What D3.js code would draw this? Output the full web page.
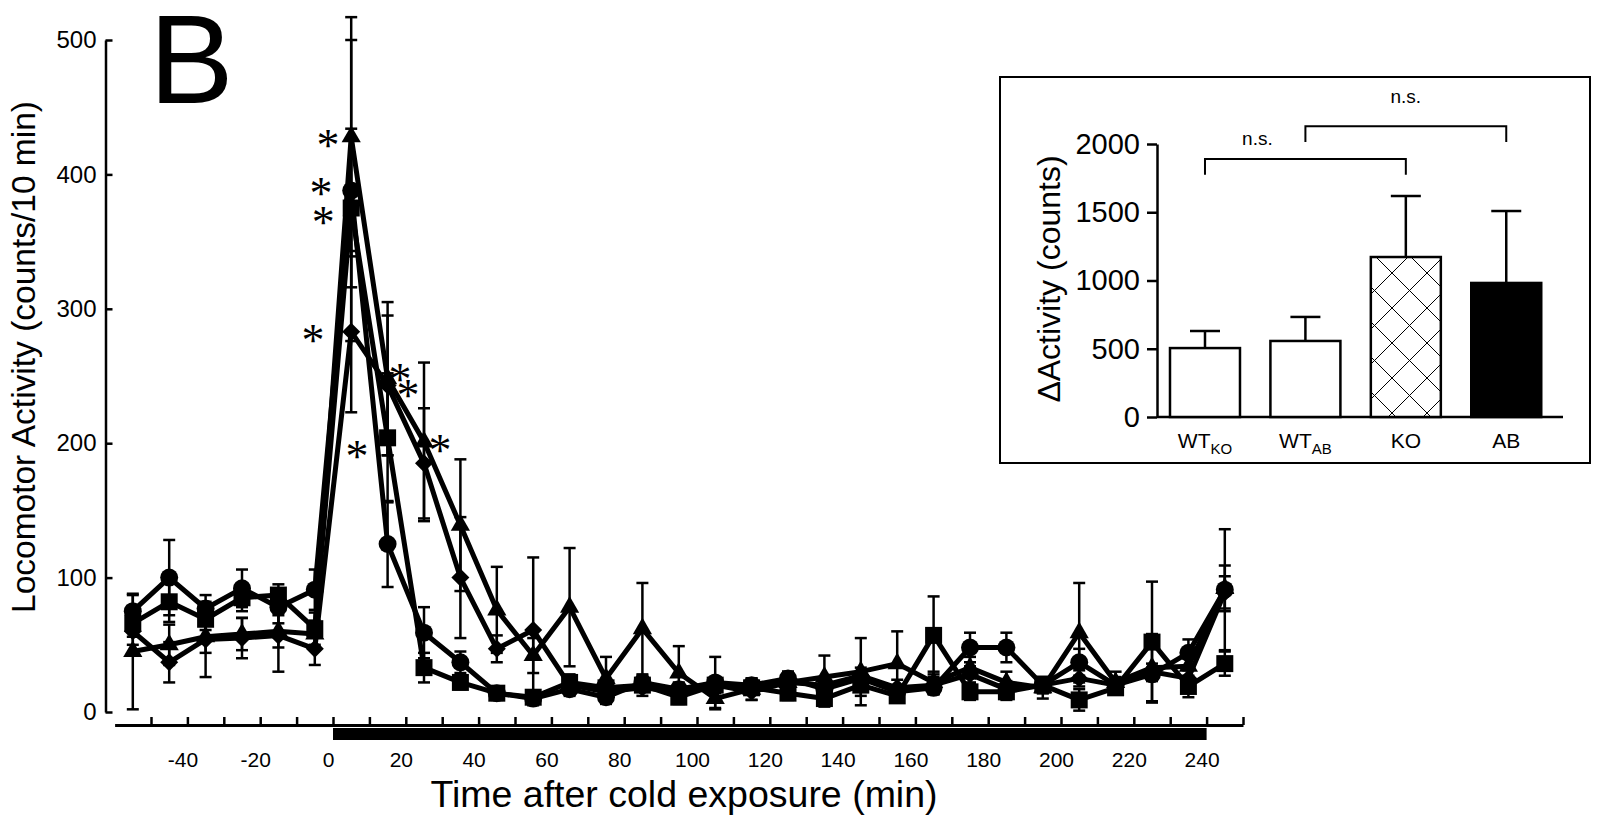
<!DOCTYPE html>
<html>
<head>
<meta charset="utf-8">
<script src="https://cdn.jsdelivr.net/npm/d3@7"></script>
<style>
  body { margin: 0; background: #fff; }
  text { font-family: "Liberation Sans", Arial, sans-serif; fill: #000; }
</style>
</head>
<body>
<div id="chart"></div>
<script>
// time bins (min after cold exposure), mid-points of 10 min bins
const times = [-55, -45, -35, -25, -15, -5, 5, 15, 25, 35, 45, 55, 65, 75, 85, 95, 105, 115, 125, 135, 145, 155, 165, 175, 185, 195, 205, 215, 225, 235, 245];

const circleVals   = [75, 100, 77, 92, 78, 91, 388, 125, 59, 37, 14, 10, 17, 11, 22, 17, 22, 20, 25, 17, 25, 15, 18, 48, 48, 20, 37, 20, 28, 44, 91];
const circleErr    = [12, 28, 10, 14, 12, 15, 112, 32, 19, 8, 5, 5, 5, 5, 5, 5, 19, 5, 5, 5, 5, 5, 5, 11, 11, 5, 10, 5, 5, 10, 45];
const squareVals   = [66, 82, 69, 85, 87, 62, 375, 204, 33, 22, 14, 11, 22, 18, 20, 11, 20, 18, 14, 10, 20, 12, 57, 15, 15, 20, 9, 18, 52, 19, 36];
const squareErr    = [10, 15, 8, 10, 8, 12, 59, 48, 11, 5, 4, 4, 6, 5, 5, 5, 5, 5, 5, 6, 8, 5, 29, 6, 6, 6, 8, 5, 45, 8, 9];
const triangleVals = [45, 50, 56, 58, 60, 58, 428, 248, 201, 139, 76, 42, 78, 25, 62, 29, 10, 17, 22, 26, 30, 36, 22, 33, 22, 18, 59, 22, 33, 34, 92];
const triangleErr  = [43, 15, 12, 12, 12, 10, 89, 57, 59, 49, 32, 13, 44, 16, 34, 20, 8, 8, 8, 16, 25, 24, 8, 8, 8, 8, 37, 8, 25, 10, 17];
const diamondVals  = [60, 37, 54, 55, 57, 47, 283, 243, 185, 100, 47, 61, 20, 15, 18, 15, 20, 15, 22, 20, 27, 18, 20, 28, 17, 20, 25, 20, 30, 25, 89];
const diamondErr   = [10, 15, 28, 15, 27, 12, 60, 52, 41, 45, 10, 54, 6, 6, 6, 6, 6, 6, 6, 6, 6, 6, 6, 6, 6, 6, 6, 6, 6, 6, 12];

const yTicks = [0, 100, 200, 300, 400, 500];
const xTicks = [-50, -40, -30, -20, -10, 0, 10, 20, 30, 40, 50, 60, 70, 80, 90, 100, 110, 120, 130, 140, 150, 160, 170, 180, 190, 200, 210, 220, 230, 240, 250];
const xLabelled = [-40, -20, 0, 20, 40, 60, 80, 100, 120, 140, 160, 180, 200, 220, 240];
const coldPeriod = [0, 240];

// significance stars, placed in data units (time, counts)
const stars = [
  [-1.4, 427], [-3.3, 391], [-2.7, 370], [-5.5, 282],
  [6.6, 196], [18.4, 253], [20.6, 241], [29.4, 200]
];

// inset bar chart
const insetGroups = ["WTKO", "WTAB", "KO", "AB"];
const insetMain   = ["WT", "WT", "KO", "AB"];
const insetSub    = ["KO", "AB", "", ""];
const insetVals   = [505, 557, 1172, 982];
const insetErr    = [125, 176, 447, 527];
const insetTicks  = [0, 500, 1000, 1500, 2000];
const insetBrackets = [
  { from: 0, to: 2, level: 1890, label: "n.s.", shift: -48, gap: 14 },
  { from: 1, to: 3, level: 2130, label: "n.s.", shift: 0, gap: 23 }
];

const width = 1604, height = 823;

const svg = d3.select("#chart")
  .append("svg")
  .attr("width", width)
  .attr("height", height);

const x = d3.scaleLinear().domain([-60, 250]).range([114.6, 1243]);
const y = d3.scaleLinear().domain([0, 500]).range([712, 40]);

// panel letter
svg.append("text")
  .attr("x", 149).attr("y", 103)
  .attr("font-size", 127)
  .text("B");

// y axis
const yAxis = svg.append("g")
  .attr("transform", "translate(105.5,0)")
  .call(d3.axisLeft(y).tickValues(yTicks).tickSizeInner(-7).tickSizeOuter(0).tickPadding(9));
yAxis.select(".domain").attr("stroke-width", 2.5);
yAxis.selectAll(".tick line").attr("stroke-width", 2.5);
yAxis.selectAll("text").attr("font-size", 24).attr("font-family", "Liberation Sans, Arial, sans-serif");

svg.append("text")
  .attr("transform", "translate(35,357) rotate(-90)")
  .attr("text-anchor", "middle")
  .attr("font-size", 33.5)
  .text("Locomotor Activity (counts/10 min)");

// x axis
const xAxis = svg.append("g")
  .attr("transform", "translate(0,725)")
  .call(d3.axisBottom(x).tickValues(xTicks).tickSizeInner(-8).tickSizeOuter(0).tickPadding(27)
    .tickFormat(d => xLabelled.includes(d) ? d : ""));
xAxis.select(".domain").attr("stroke-width", 3);
xAxis.selectAll(".tick line").attr("stroke-width", 2.5);
xAxis.selectAll("text").attr("font-size", 21).attr("dx", -5)
  .attr("font-family", "Liberation Sans, Arial, sans-serif");

svg.append("rect")
  .attr("x", x(coldPeriod[0]))
  .attr("y", 728)
  .attr("width", x(coldPeriod[1]) - x(coldPeriod[0]))
  .attr("height", 12)
  .attr("fill", "#000");

svg.append("text")
  .attr("x", 684).attr("y", 807)
  .attr("text-anchor", "middle")
  .attr("font-size", 37.5)
  .text("Time after cold exposure (min)");

// series
const series = [
  { name: "diamond",  vals: diamondVals,  err: diamondErr,  sym: d3.symbolSquare,   size: 162, rot: 45 },
  { name: "triangle", vals: triangleVals, err: triangleErr, sym: d3.symbolTriangle, size: 160, rot: 0 },
  { name: "square",   vals: squareVals,   err: squareErr,   sym: d3.symbolSquare,   size: 289, rot: 0 },
  { name: "circle",   vals: circleVals,   err: circleErr,   sym: d3.symbolCircle,   size: 254, rot: 0 }
];

const plot = svg.append("g");

// error bars first
series.forEach(s => {
  const pts = times.map((t, i) => ({ t, v: s.vals[i], e: s.err[i] }));
  const eb = plot.append("g").attr("stroke", "#000").attr("stroke-width", 2.5);
  eb.selectAll("line.v").data(pts).join("line")
    .attr("x1", d => x(d.t)).attr("x2", d => x(d.t))
    .attr("y1", d => y(Math.max(0, d.v - d.e))).attr("y2", d => y(d.v + d.e));
  eb.selectAll("line.top").data(pts).join("line")
    .attr("x1", d => x(d.t) - 6).attr("x2", d => x(d.t) + 6)
    .attr("y1", d => y(d.v + d.e)).attr("y2", d => y(d.v + d.e));
  eb.selectAll("line.bot").data(pts).join("line")
    .attr("x1", d => x(d.t) - 6).attr("x2", d => x(d.t) + 6)
    .attr("y1", d => y(Math.max(0, d.v - d.e))).attr("y2", d => y(Math.max(0, d.v - d.e)));
});

const line = d3.line().x(d => x(d.t)).y(d => y(d.v));

series.forEach(s => {
  const pts = times.map((t, i) => ({ t, v: s.vals[i] }));
  plot.append("path")
    .datum(pts)
    .attr("fill", "none")
    .attr("stroke", "#000")
    .attr("stroke-width", 5)
    .attr("stroke-linejoin", "round")
    .attr("d", line);
});

series.forEach(s => {
  const pts = times.map((t, i) => ({ t, v: s.vals[i] }));
  plot.append("g").selectAll("path")
    .data(pts)
    .join("path")
    .attr("d", d3.symbol().type(s.sym).size(s.size))
    .attr("transform", d => `translate(${x(d.t)},${y(d.v)}) rotate(${s.rot})`)
    .attr("fill", "#000");
});

// stars
svg.append("g").selectAll("text")
  .data(stars)
  .join("text")
  .attr("x", d => x(d[0]))
  .attr("y", d => y(d[1]) + 23)
  .attr("text-anchor", "middle")
  .attr("font-size", 46)
  .style("font-family", "Liberation Serif, serif")
  .text("*");

// ---------- inset ----------
const inset = svg.append("g");

inset.append("rect")
  .attr("x", 1000).attr("y", 77)
  .attr("width", 590).attr("height", 386)
  .attr("fill", "#fff")
  .attr("stroke", "#000")
  .attr("stroke-width", 2);

const defs = svg.append("defs");
const pat = defs.append("pattern")
  .attr("id", "hatch")
  .attr("patternUnits", "userSpaceOnUse")
  .attr("x", 1392).attr("y", 273)
  .attr("width", 35).attr("height", 35);
pat.append("rect").attr("width", 35).attr("height", 35).attr("fill", "#fff");
pat.append("path").attr("d", "M0,0L35,35M35,0L0,35M-5,30L5,40M30,-5L40,5M-5,5L5,-5M30,40L40,30")
  .attr("stroke", "#000").attr("stroke-width", 1);

const yi = d3.scaleLinear().domain([0, 2000]).range([417, 144]);
const xi = d3.scaleBand().domain(insetGroups).range([1157, 1563])
  .paddingInner(0.303).paddingOuter(0.173).align(0.374);

const barFill = ["#fff", "#fff", "url(#hatch)", "#000"];

const yiAxis = inset.append("g")
  .attr("transform", "translate(1157,0)")
  .call(d3.axisLeft(yi).tickValues(insetTicks).tickFormat(d3.format("d"))
    .tickSizeInner(10).tickSizeOuter(0).tickPadding(7));
yiAxis.select(".domain").attr("stroke-width", 2.5);
yiAxis.selectAll(".tick line").attr("stroke-width", 2.5);
yiAxis.selectAll("text").attr("font-size", 29).attr("font-family", "Liberation Sans, Arial, sans-serif");

inset.append("line")
  .attr("x1", 1157).attr("x2", 1563)
  .attr("y1", yi(0)).attr("y2", yi(0))
  .attr("stroke", "#000").attr("stroke-width", 2.5);

inset.append("text")
  .attr("transform", "translate(1060,279) rotate(-90)")
  .attr("text-anchor", "middle")
  .attr("font-size", 32)
  .text("\u0394Activity (counts)");

// error bars (upper only)
const ie = inset.append("g").attr("stroke", "#000").attr("stroke-width", 2.5);
insetGroups.forEach((g, i) => {
  const cx = xi(g) + xi.bandwidth() / 2;
  ie.append("line").attr("x1", cx).attr("x2", cx)
    .attr("y1", yi(insetVals[i])).attr("y2", yi(insetVals[i] + insetErr[i]));
  ie.append("line").attr("x1", cx - 15).attr("x2", cx + 15)
    .attr("y1", yi(insetVals[i] + insetErr[i])).attr("y2", yi(insetVals[i] + insetErr[i]));
});

inset.append("g").selectAll("rect")
  .data(insetGroups)
  .join("rect")
  .attr("x", d => xi(d))
  .attr("y", (d, i) => yi(insetVals[i]))
  .attr("width", xi.bandwidth())
  .attr("height", (d, i) => yi(0) - yi(insetVals[i]))
  .attr("fill", (d, i) => barFill[i])
  .attr("stroke", "#000")
  .attr("stroke-width", 2.5);

// group labels with subscripts
const lab = inset.append("g").selectAll("text")
  .data(insetGroups)
  .join("text")
  .attr("x", d => xi(d) + xi.bandwidth() / 2)
  .attr("y", 448)
  .attr("text-anchor", "middle")
  .attr("font-size", 21);
lab.append("tspan").text((d, i) => insetMain[i]);
lab.append("tspan").attr("font-size", 15).attr("dy", 6).text((d, i) => insetSub[i]);

// brackets
insetBrackets.forEach(b => {
  const x1 = xi(insetGroups[b.from]) + xi.bandwidth() / 2;
  const x2 = xi(insetGroups[b.to]) + xi.bandwidth() / 2;
  const yl = yi(b.level), yd = yi(b.level - 115);
  inset.append("path")
    .attr("d", `M${x1},${yd}V${yl}H${x2}V${yd}`)
    .attr("fill", "none").attr("stroke", "#000").attr("stroke-width", 2);
  inset.append("text")
    .attr("x", (x1 + x2) / 2 + b.shift)
    .attr("y", yl - b.gap)
    .attr("text-anchor", "middle")
    .attr("font-size", 19)
    .text(b.label);
});
</script>
</body>
</html>
